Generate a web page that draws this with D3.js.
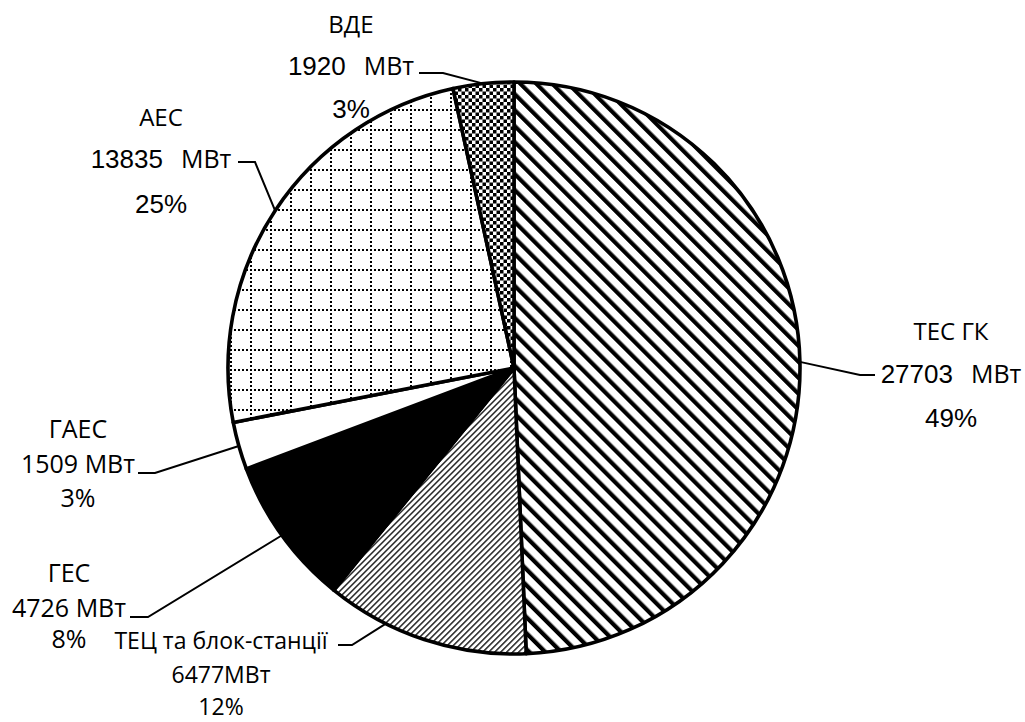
<!DOCTYPE html>
<html>
<head>
<meta charset="utf-8">
<script src="https://cdn.jsdelivr.net/npm/d3@7"></script>
<style>
  html, body { margin: 0; padding: 0; background: #fff; }
  svg { display: block; }
  .nm { font-family: "Open Sans", Lato, sans-serif; }
  .ar { font-family: "Liberation Sans", Arial, sans-serif; }
</style>
</head>
<body>
<svg id="chart" width="1025" height="722"></svg>
<script>
// Installed capacity by plant type
const categories = ["ТЕС ГК", "ТЕЦ та блок-станції", "ГЕС", "ГАЕС", "АЕС", "ВДЕ"];
const capacities = [27703, 6477, 4726, 1509, 13835, 1920];
const percents   = [49, 12, 8, 3, 25, 3];
const unit = "МВт";

const svg = d3.select("#chart");
const cx = 514, cy = 368, R = 286;

// ---- fill patterns ----
const defs = svg.append("defs");

// wide diagonal stripes
const pStripe = defs.append("pattern").attr("id", "p-stripe")
  .attr("patternUnits", "userSpaceOnUse").attr("width", 11.3).attr("height", 11.3)
  .attr("patternTransform", "rotate(-45)");
pStripe.append("rect").attr("width", 11.3).attr("height", 11.3).attr("fill", "#fff");
pStripe.append("rect").attr("x", 0).attr("width", 4.2).attr("height", 11.3).attr("fill", "#000");

// fine upward diagonal lines
const pFine = defs.append("pattern").attr("id", "p-fine")
  .attr("patternUnits", "userSpaceOnUse").attr("width", 4.24).attr("height", 4.24)
  .attr("patternTransform", "rotate(45)");
pFine.append("rect").attr("width", 4.24).attr("height", 4.24).attr("fill", "#fff");
pFine.append("rect").attr("x", 0).attr("width", 1.3).attr("height", 4.24).attr("fill", "#000");

// dotted grid
const pGrid = defs.append("pattern").attr("id", "p-grid")
  .attr("patternUnits", "userSpaceOnUse").attr("width", 20).attr("height", 20)
  .attr("x", 16).attr("y", 1);
pGrid.append("rect").attr("width", 20).attr("height", 20).attr("fill", "#fff");
d3.range(0, 20, 4).forEach(k => {
  pGrid.append("rect").attr("x", k).attr("y", 0).attr("width", 2).attr("height", 2).attr("fill", "#000");
  if (k > 0) pGrid.append("rect").attr("x", 0).attr("y", k).attr("width", 2).attr("height", 2).attr("fill", "#000");
});

// small checkerboard
const c = 3.5;
const pCheck = defs.append("pattern").attr("id", "p-check")
  .attr("patternUnits", "userSpaceOnUse").attr("width", 2 * c).attr("height", 2 * c);
pCheck.append("rect").attr("width", 2 * c).attr("height", 2 * c).attr("fill", "#fff");
pCheck.append("rect").attr("x", 0).attr("y", 0).attr("width", c).attr("height", c).attr("fill", "#000");
pCheck.append("rect").attr("x", c).attr("y", c).attr("width", c).attr("height", c).attr("fill", "#000");

const fills = d3.scaleOrdinal()
  .domain(categories)
  .range(["url(#p-stripe)", "url(#p-fine)", "#000", "#fff", "url(#p-grid)", "url(#p-check)"]);

// ---- pie ----
const pie = d3.pie().sort(null).value(d => d.value).startAngle(0).endAngle(2 * Math.PI);
const data = categories.map((name, i) => ({ name, value: capacities[i], pct: percents[i] }));
const arcs = pie(data);
const arc = d3.arc().innerRadius(0).outerRadius(R);

const g = svg.append("g").attr("transform", `translate(${cx},${cy})`);
g.selectAll("path.slice").data(arcs).enter().append("path")
  .attr("class", "slice")
  .attr("d", arc)
  .attr("fill", d => fills(d.data.name))
  .attr("stroke", "#000")
  .attr("stroke-width", 3.6)
  .attr("stroke-linejoin", "round");

// ---- labels with leader lines ----
// at: fraction along the slice for the leader anchor; x: text centre;
// ys: baselines of the three lines; fs: font size; lead: start and bend of the leader
const layout = {
  "ТЕС ГК":              { at: 0.5, x: 951, ys: [340, 383, 427], fs: 24, lead: [[875, 375], [860, 375]], big: true },
  "ТЕЦ та блок-станції": { at: 0.7, x: 221, ys: [649, 683, 715], fs: 23, lead: [[338, 645], [352, 645]], big: false, tight: true },
  "ГЕС":                 { at: 0.5, x: 69,  ys: [582, 617, 648], fs: 25, lead: [[130, 617], [148, 617]], big: false },
  "ГАЕС":                { at: 0.5, x: 78,  ys: [438, 473, 507], fs: 25, lead: [[138, 473], [155, 473]], big: false },
  "АЕС":                 { at: 0.5, x: 161, ys: [126, 168, 213], fs: 24, lead: [[238, 162], [255, 162]], big: true },
  "ВДЕ":                 { at: 0.5, x: 351, ys: [33, 75, 118],   fs: 24, lead: [[419, 73], [443, 73]], big: true }
};

const lab = svg.append("g");
arcs.forEach(a => {
  const L = layout[a.data.name];
  const ang = a.startAngle + (a.endAngle - a.startAngle) * L.at;
  const ax = cx + Math.sin(ang) * R, ay = cy - Math.cos(ang) * R;
  lab.append("path")
    .attr("d", d3.line()([L.lead[0], L.lead[1], [ax, ay]]))
    .attr("fill", "none").attr("stroke", "#000").attr("stroke-width", 2);

  const t = lab.append("g").attr("text-anchor", "middle").attr("fill", "#000");
  t.append("text").attr("class", "nm").attr("x", L.x).attr("y", L.ys[0])
    .attr("font-size", L.fs).text(a.data.name);
  if (L.big) {
    const mid = t.append("text").attr("x", L.x).attr("y", L.ys[1]);
    mid.append("tspan").attr("class", "ar").attr("font-size", 26).text(a.data.value);
    mid.append("tspan").attr("class", "nm").attr("font-size", 25).attr("dx", 18).text(unit);
    t.append("text").attr("class", "ar").attr("x", L.x).attr("y", L.ys[2])
      .attr("font-size", 26).text(a.data.pct + "%");
  } else {
    t.append("text").attr("class", "nm").attr("x", L.x).attr("y", L.ys[1])
      .attr("font-size", L.fs).text(L.tight ? `${a.data.value}${unit}` : `${a.data.value} ${unit}`);
    t.append("text").attr("class", "nm").attr("x", L.x).attr("y", L.ys[2])
      .attr("font-size", L.fs).text(a.data.pct + "%");
  }
});
</script>
</body>
</html>
